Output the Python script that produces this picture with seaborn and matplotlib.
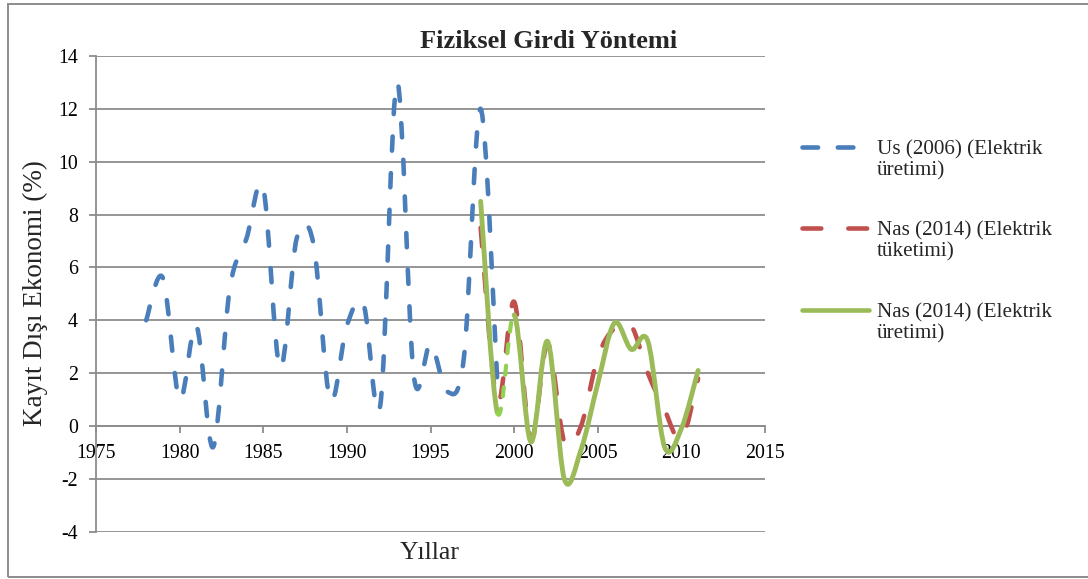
import numpy as np
import matplotlib
matplotlib.use("Agg")
import matplotlib.pyplot as plt
import seaborn as sns
from matplotlib.path import Path
from matplotlib.patches import PathPatch, Rectangle
from matplotlib.lines import Line2D

# ---------------------------------------------------------------------------
# data (annual values)
# ---------------------------------------------------------------------------
years_us = list(range(1978, 2000))
us_uretim = [4.0, 5.6, 1.0, 3.8, -0.8, 5.2, 7.1, 9.0, 2.2, 7.1, 6.9,
             1.0, 3.8, 4.6, 0.8, 13.0, 1.9, 3.1, 1.3, 2.6, 12.0, 1.6]

years_nas = list(range(1998, 2012))
nas_tuketim = [7.5, 0.9, 4.7, -0.5, 3.1, -0.6, 0.0, 2.6, 3.7, 3.8,
               2.0, 0.6, -0.5, 1.8]
nas_uretim = [8.5, 0.5, 4.2, -0.6, 3.2, -2.0, -0.9, 1.6, 3.9, 2.9,
              3.2, -0.8, -0.1, 2.1]

labels = ["Us (2006) (Elektrik\nüretimi)",
          "Nas (2014) (Elektrik\ntüketimi)",
          "Nas (2014) (Elektrik\nüretimi)"]
colors = ["#4a7ebb", "#c0504d", "#9bbb59"]
light_green = "#92d050"

x_ticks = list(range(1975, 2016, 5))
y_ticks = list(range(-4, 15, 2))

GRAY = "#8c8c8c"
LW = 3.3


def bezier_segments(x, y):
    """Excel-like smoothed line: one cubic bezier per pair of points."""
    pts = np.column_stack([np.asarray(x, float), np.asarray(y, float)])
    ext = np.vstack([pts[0], pts, pts[-1]])
    segs = []
    for i in range(len(pts) - 1):
        p0, p1, p2, p3 = ext[i], ext[i + 1], ext[i + 2], ext[i + 3]
        segs.append((p1, p1 + (p2 - p0) / 6, p2 - (p3 - p1) / 6, p2))
    return segs


def segs_to_path(segs):
    verts, codes = [], []
    last = None
    for a, c1, c2, b in segs:
        if last is None or not np.allclose(last, a):
            verts.append(a)
            codes.append(Path.MOVETO)
        verts += [c1, c2, b]
        codes += [Path.CURVE4] * 3
        last = b
    return Path(verts, codes)


def add_curve(ax, segs, color, ls, lw=LW, z=2):
    patch = PathPatch(segs_to_path(segs), fill=False, edgecolor=color,
                      linewidth=lw, linestyle=ls, zorder=z)
    patch.set_capstyle("round")
    patch.set_joinstyle("round")
    ax.add_patch(patch)


sns.set_theme(style="white")
plt.rcParams["font.family"] = ["Liberation Serif", "DejaVu Serif"]
plt.rcParams["axes.unicode_minus"] = False

W, H = 1088, 579
fig = plt.figure(figsize=(W / 100, H / 100), dpi=100)
ax = fig.add_axes([96 / W, (H - 531.7) / H, (765 - 96) / W, (531.7 - 56) / H])

blue_ls = (0, (3.1, 4.9))
red_ls = (0, (4.1, 5.9))

add_curve(ax, bezier_segments(years_us, us_uretim), colors[0], blue_ls, z=2)
add_curve(ax, bezier_segments(years_nas, nas_tuketim), colors[1], red_ls, z=3)

green = bezier_segments(years_nas, nas_uretim)
add_curve(ax, green[:1] + green[2:], colors[2], "-", lw=3.5, z=4)
add_curve(ax, green[1:2], light_green, (0, (2.2, 3.0)), lw=3.0, z=5)

ax.set_xlim(1975, 2015)
ax.set_ylim(-4, 14)
ax.set_xticks(x_ticks)
ax.set_yticks(y_ticks)
ax.set_facecolor("white")

ax.yaxis.grid(True, color=GRAY, linewidth=1.3)
ax.xaxis.grid(False)
ax.set_axisbelow(True)
for s in ["top", "right"]:
    ax.spines[s].set_visible(False)
ax.spines["bottom"].set_position(("data", 0))
ax.spines["bottom"].set_color(GRAY)
ax.spines["bottom"].set_linewidth(1.3)
ax.spines["left"].set_color(GRAY)
ax.spines["left"].set_linewidth(1.3)
ax.tick_params(axis="both", direction="out", length=5, width=1.3,
               color=GRAY, labelsize=14.3, labelcolor="black")
ax.tick_params(axis="y", pad=8)
ax.tick_params(axis="x", pad=8)
ax.tick_params(left=True, bottom=True)

fig.text(549 / W, 1 - 42 / H, "Fiziksel Girdi Yöntemi", ha="center",
         va="center", fontsize=19, fontweight="bold")
fig.text(35 / W, 1 - 293 / H, "Kayıt Dışı Ekonomi (%)", rotation=90,
         ha="center", va="center", fontsize=19.5)
fig.text(430 / W, 1 - 553 / H, "Yıllar", ha="center", va="center",
         fontsize=18.5)

# legend drawn by hand to match the two-line layout
leg_styles = [(0, (3.4, 4.3)), red_ls, "-"]
leg_y = [147, 228, 310]
for lab, col, ls, yy in zip(labels, colors, leg_styles, leg_y):
    ln = Line2D([802 / W, 869 / W], [1 - yy / H, 1 - yy / H],
                transform=fig.transFigure, color=col, linewidth=LW,
                linestyle=ls, solid_capstyle="round",
                dash_capstyle="round")
    fig.add_artist(ln)
    fig.text(877 / W, 1 - (yy - 7) / H, lab, ha="left", va="top",
             fontsize=15.2, linespacing=1.12)

fig.add_artist(Rectangle((8 / W, 1 - 577 / H), (1095 - 8) / W,
                         (577 - 4) / H, transform=fig.transFigure,
                         fill=False, edgecolor=GRAY, linewidth=1.4))

fig.savefig("out.png", dpi=100)
